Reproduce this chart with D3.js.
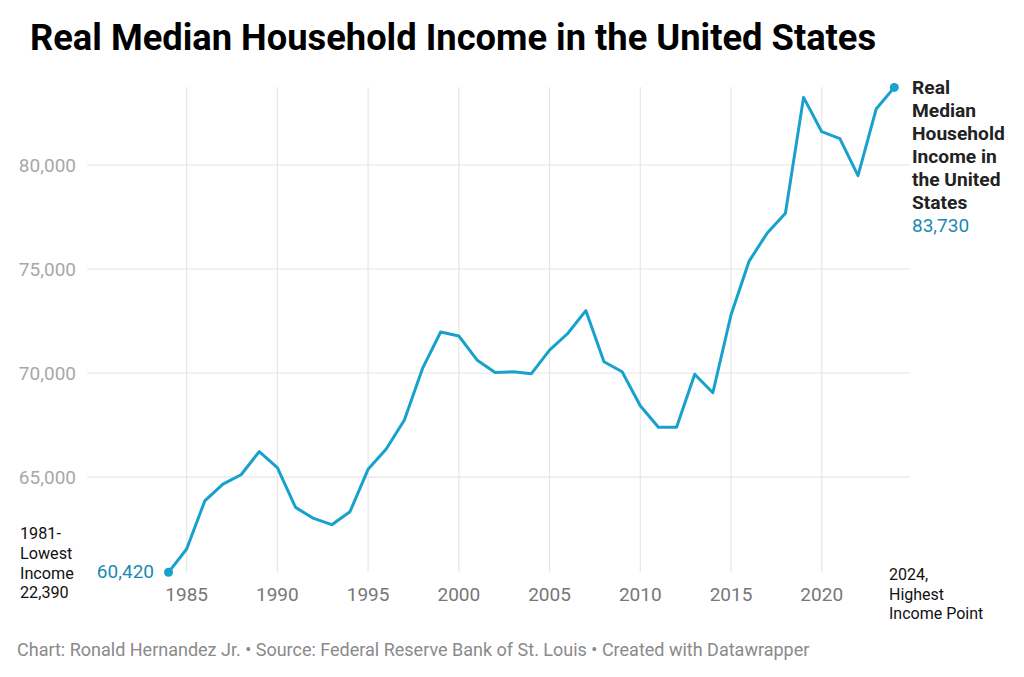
<html>
<head>
    <script src="https://d3js.org/d3.v7.min.js"></script>
    <style>
        body { margin: 0; background: #fff; }
        text { font-family: Roboto, "Noto Sans", sans-serif; }
    </style>
</head>
<body>
<svg id="chart" width="1024" height="677"></svg>
<script>
    // values (Datawrapper, FRED series)
    const years = [1984, 1985, 1986, 1987, 1988, 1989, 1990, 1991, 1992, 1993,
                   1994, 1995, 1996, 1997, 1998, 1999, 2000, 2001, 2002, 2003,
                   2004, 2005, 2006, 2007, 2008, 2009, 2010, 2011, 2012, 2013,
                   2014, 2015, 2016, 2017, 2018, 2019, 2020, 2021, 2022, 2023, 2024];
    const income = [60420, 61540, 63850, 64660, 65110, 66220, 65450, 63540, 63010, 62710,
                    63330, 65370, 66350, 67740, 70220, 71970, 71780, 70630, 70030, 70060,
                    69970, 71100, 71900, 73000, 70540, 70060, 68430, 67390, 67390, 69940,
                    69050, 72790, 75380, 76730, 77680, 83250, 81600, 81270, 79490, 82690, 83730];
    const yTicks = [65000, 70000, 75000, 80000];
    const xTicks = [1985, 1990, 1995, 2000, 2005, 2010, 2015, 2020];

    const data = years.map((y, i) => ({year: y, value: income[i]}));

    const svg = d3.select("svg#chart");
    const blue = "#18a1cd";
    const blueText = "#1a8ab4";

    const x = d3.scaleLinear().domain([1984, 2024]).range([168.5, 894.3]);
    const y = d3.scaleLinear().domain(d3.extent(income)).range([572.3, 87.4]);

    // title
    svg.append("text")
        .attr("x", 30).attr("y", 50)
        .style("font-size", "36.3px").style("font-weight", 700)
        .style("fill", "#000")
        .text("Real Median Household Income in the United States");

    // horizontal grid + y labels
    svg.append("g").selectAll("line").data(yTicks).join("line")
        .attr("x1", 87).attr("x2", 910)
        .attr("y1", d => y(d)).attr("y2", d => y(d))
        .style("stroke", "#e6e6e6").style("stroke-width", 1.2);

    svg.append("g").selectAll("text").data(yTicks).join("text")
        .attr("x", 76).attr("y", d => y(d)).attr("dy", "0.35em")
        .attr("text-anchor", "end")
        .style("font-size", "19px").style("fill", "#a8a8a8")
        .text(d => d3.format(",")(d));

    // vertical grid + x labels
    svg.append("g").selectAll("line").data(xTicks).join("line")
        .attr("x1", d => x(d)).attr("x2", d => x(d))
        .attr("y1", 87).attr("y2", 572)
        .style("stroke", "#e6e6e6").style("stroke-width", 1.2);

    svg.append("g").selectAll("text").data(xTicks).join("text")
        .attr("x", d => x(d)).attr("y", 601)
        .attr("text-anchor", "middle")
        .style("font-size", "19px").style("fill", "#777")
        .text(d => d);

    // the line
    const line = d3.line().x(d => x(d.year)).y(d => y(d.value));
    svg.append("path").datum(data)
        .attr("d", line)
        .style("fill", "none").style("stroke", blue)
        .style("stroke-width", 3).style("stroke-linejoin", "round");

    const first = data[0], last = data[data.length - 1];
    svg.selectAll("circle.end").data([first, last]).join("circle")
        .attr("class", "end")
        .attr("cx", d => x(d.year)).attr("cy", d => y(d.value))
        .attr("r", 4.5).style("fill", blue);

    // start value
    svg.append("text")
        .attr("x", 154).attr("y", 577.7)
        .attr("text-anchor", "end")
        .style("font-size", "19px").style("fill", blueText)
        .text(d3.format(",")(first.value));

    // end label
    const endLines = ["Real", "Median", "Household", "Income in", "the United", "States"];
    svg.append("g").selectAll("text").data(endLines).join("text")
        .attr("x", 912).attr("y", (d, i) => 94 + i * 23)
        .style("font-size", "19.2px").style("font-weight", 700).style("fill", "#222")
        .text(d => d);
    svg.append("text")
        .attr("x", 912).attr("y", 94 + 6 * 23)
        .style("font-size", "19px").style("fill", blueText)
        .text(d3.format(",")(last.value));

    // annotations
    const lowLines = ["1981-", "Lowest", "Income", "22,390"];
    svg.append("g").selectAll("text").data(lowLines).join("text")
        .attr("x", 20).attr("y", (d, i) => 539 + i * 19.8)
        .style("font-size", "16.2px").style("fill", "#111")
        .text(d => d);

    const highLines = ["2024,", "Highest", "Income Point"];
    svg.append("g").selectAll("text").data(highLines).join("text")
        .attr("x", 889).attr("y", (d, i) => 580 + i * 19.7)
        .style("font-size", "16px").style("fill", "#111")
        .text(d => d);

    // footer
    svg.append("text")
        .attr("x", 17).attr("y", 656)
        .style("font-size", "18px").style("fill", "#8a8a8a")
        .text("Chart: Ronald Hernandez Jr. \u2022 Source: Federal Reserve Bank of St. Louis \u2022 Created with Datawrapper");
</script>
</body>
</html>
